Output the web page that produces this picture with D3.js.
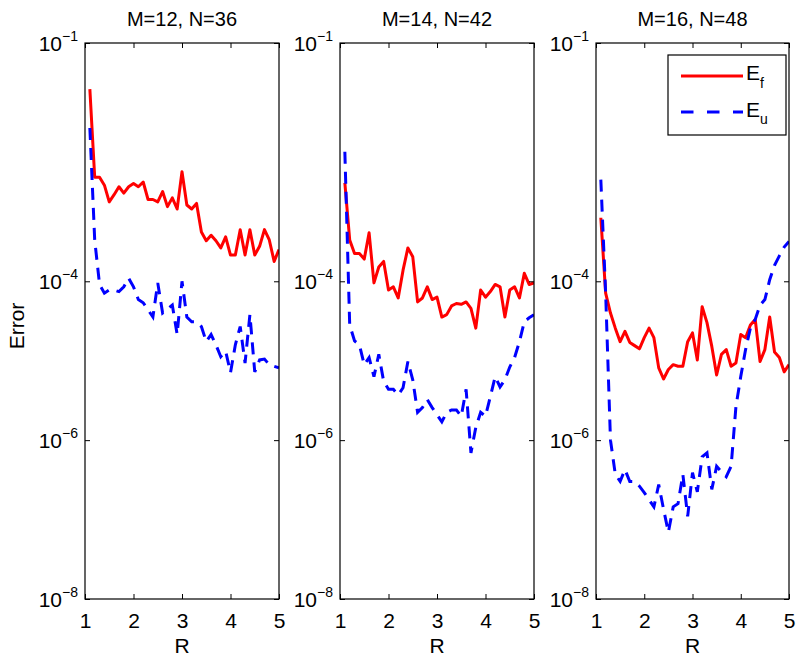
<!DOCTYPE html>
<html>
<head>
<meta charset="utf-8">
<script src="https://cdn.jsdelivr.net/npm/d3@7"></script>
<style>
  body { margin: 0; background: #fff; }
  svg text { font-family: "Liberation Sans", Arial, Helvetica, sans-serif; fill: #000; }
</style>
</head>
<body>
<div id="chart"></div>
<script>
// R values on the x axis
var rValues = [1.1,1.2,1.3,1.4,1.5,1.6,1.7,1.8,1.9,2.0,2.1,2.2,2.3,2.4,2.5,2.6,2.7,2.8,2.9,3.0,
               3.1,3.2,3.3,3.4,3.5,3.6,3.7,3.8,3.9,4.0,4.1,4.2,4.3,4.4,4.5,4.6,4.7,4.8,4.9,5.0];

var panelTitles = ['M=12, N=36', 'M=14, N=42', 'M=16, N=48'];

// errors as log10 values
var efM12 = [-1.58,-2.69,-2.69,-2.79,-3.00,-2.91,-2.81,-2.89,-2.81,-2.77,-2.81,-2.75,-2.97,-2.97,-3.00,-2.87,-3.06,-2.95,-3.09,-2.62,
             -3.04,-3.09,-3.02,-3.38,-3.49,-3.42,-3.49,-3.58,-3.44,-3.67,-3.67,-3.35,-3.67,-3.35,-3.67,-3.56,-3.35,-3.48,-3.75,-3.60];
var euM12 = [-2.07,-3.48,-4.04,-4.15,-4.11,-4.11,-4.13,-4.07,-3.96,-4.07,-4.23,-4.27,-4.36,-4.45,-4.02,-4.40,-4.35,-4.30,-4.67,-4.00,
             -4.45,-4.51,-4.51,-4.57,-4.76,-4.67,-4.80,-4.95,-4.88,-5.15,-4.80,-4.57,-5.03,-4.42,-5.14,-4.99,-4.98,-5.05,-5.07,-5.09];

var efM14 = [-2.76,-3.48,-3.65,-3.65,-3.72,-3.39,-4.02,-3.82,-3.75,-4.11,-4.07,-4.21,-3.86,-3.58,-3.69,-4.26,-4.21,-4.07,-4.23,-4.20,
             -4.45,-4.42,-4.31,-4.28,-4.29,-4.26,-4.34,-4.59,-4.11,-4.20,-4.13,-4.04,-4.07,-4.45,-4.11,-4.07,-4.21,-3.90,-4.04,-4.02];
var euM14 = [-2.37,-4.55,-4.75,-4.80,-5.05,-4.96,-5.20,-4.92,-5.26,-5.36,-5.36,-5.43,-5.34,-5.01,-5.24,-5.65,-5.59,-5.49,-5.59,-5.68,
             -5.77,-5.65,-5.62,-5.62,-5.70,-5.36,-6.16,-5.84,-5.65,-5.70,-5.45,-5.20,-5.33,-5.24,-5.08,-4.96,-4.76,-4.51,-4.46,-4.42];

var efM16 = [-3.20,-4.15,-4.40,-4.59,-4.76,-4.63,-4.77,-4.81,-4.85,-4.71,-4.59,-4.71,-5.09,-5.23,-5.11,-5.05,-5.07,-5.07,-4.76,-4.65,
             -4.99,-4.32,-4.52,-4.82,-5.18,-4.92,-4.86,-5.07,-5.03,-4.67,-4.71,-4.55,-4.48,-5.01,-4.86,-4.45,-4.89,-4.96,-5.14,-5.05];
var euM16 = [-2.72,-4.15,-6.00,-6.43,-6.52,-6.37,-6.52,-6.52,-6.58,-6.66,-6.75,-6.84,-6.56,-6.87,-7.16,-6.84,-6.80,-6.43,-6.96,-6.41,
             -6.65,-6.21,-6.16,-6.62,-6.33,-6.40,-6.46,-6.33,-5.58,-5.20,-4.86,-4.59,-4.48,-4.30,-4.23,-3.98,-3.80,-3.68,-3.57,-3.50];

var xTicks = [1, 2, 3, 4, 5];
var yTicks = [1e-8, 1e-6, 1e-4, 1e-1];
var yTickExp = ['−8', '−6', '−4', '−1'];

var panels = [
    {title: panelTitles[0], ef: efM12, eu: euM12, left: 85,  right: 279},
    {title: panelTitles[1], ef: efM14, eu: euM14, left: 340, right: 534},
    {title: panelTitles[2], ef: efM16, eu: euM16, left: 596, right: 789}
];

var width = 800, height = 657;
var top_ = 43, bottom = 599;

var svg = d3.select('#chart').append('svg')
    .attr('width', width)
    .attr('height', height);

var y = d3.scaleLog().domain([1e-8, 1e-1]).range([bottom, top_]);

function toPoints(logs) {
    return logs.map(function(v, i) { return [rValues[i], Math.pow(10, v)]; });
}

panels.forEach(function(p, k) {
    var x = d3.scaleLinear().domain([1, 5]).range([p.left, p.right]);
    var g = svg.append('g');

    g.append('clipPath').attr('id', 'clip' + k)
        .append('rect')
        .attr('x', p.left).attr('y', top_)
        .attr('width', p.right - p.left).attr('height', bottom - top_);

    var line = d3.line()
        .x(function(d) { return x(d[0]); })
        .y(function(d) { return y(d[1]); });

    var lines = g.append('g').attr('clip-path', 'url(#clip' + k + ')');
    lines.append('path')
        .datum(toPoints(p.ef))
        .attr('d', line)
        .attr('fill', 'none')
        .attr('stroke', '#ff0000')
        .attr('stroke-width', 3)
        .attr('stroke-linejoin', 'round');
    lines.append('path')
        .datum(toPoints(p.eu))
        .attr('d', line)
        .attr('fill', 'none')
        .attr('stroke', '#0000ff')
        .attr('stroke-width', 3)
        .attr('stroke-dasharray', '12,8');

    // inward ticks on all four sides
    g.append('g').attr('transform', 'translate(0,' + bottom + ')')
        .call(d3.axisBottom(x).tickValues(xTicks).tickSize(-5).tickSizeOuter(0).tickPadding(14).tickFormat(d3.format('d')));
    g.append('g').attr('transform', 'translate(0,' + top_ + ')')
        .call(d3.axisTop(x).tickValues(xTicks).tickSize(-5).tickSizeOuter(0).tickFormat(''));
    g.append('g').attr('transform', 'translate(' + p.left + ',0)')
        .call(d3.axisLeft(y).tickValues(yTicks).tickSize(-5).tickSizeOuter(0).tickFormat(''));
    g.append('g').attr('transform', 'translate(' + p.right + ',0)')
        .call(d3.axisRight(y).tickValues(yTicks).tickSize(-5).tickSizeOuter(0).tickFormat(''));

    g.selectAll('.domain').remove();
    g.selectAll('.tick line').attr('stroke', '#000').attr('stroke-width', 1);
    g.selectAll('.tick text')
        .style('font-size', '21px')
        .attr('fill', '#000');

    g.append('rect')
        .attr('x', p.left).attr('y', top_)
        .attr('width', p.right - p.left).attr('height', bottom - top_)
        .attr('fill', 'none')
        .attr('stroke', '#000')
        .attr('stroke-width', 1.2);

    // y tick labels as 10^n
    yTicks.forEach(function(t, i) {
        var txt = g.append('text')
            .attr('x', p.left - 7)
            .attr('y', y(t) + 8)
            .attr('text-anchor', 'end')
            .style('font-size', '21px');
        txt.append('tspan').text('10');
        txt.append('tspan').attr('dy', -10).style('font-size', '14px').text(yTickExp[i]);
    });

    g.append('text')
        .attr('x', (p.left + p.right) / 2)
        .attr('y', 26)
        .attr('text-anchor', 'middle')
        .style('font-size', '20px')
        .text(p.title);

    g.append('text')
        .attr('x', (p.left + p.right) / 2)
        .attr('y', 653)
        .attr('text-anchor', 'middle')
        .style('font-size', '21px')
        .text('R');
});

svg.append('text')
    .attr('transform', 'translate(24,326) rotate(-90)')
    .attr('text-anchor', 'middle')
    .style('font-size', '21px')
    .text('Error');

// legend in the last panel
var legend = svg.append('g');
legend.append('rect')
    .attr('x', 668).attr('y', 55)
    .attr('width', 118).attr('height', 80)
    .attr('fill', '#fff')
    .attr('stroke', '#000')
    .attr('stroke-width', 1.2);
legend.append('line')
    .attr('x1', 681).attr('x2', 743).attr('y1', 76).attr('y2', 76)
    .attr('stroke', '#ff0000').attr('stroke-width', 3);
legend.append('line')
    .attr('x1', 681).attr('x2', 743).attr('y1', 112).attr('y2', 112)
    .attr('stroke', '#0000ff').attr('stroke-width', 3)
    .attr('stroke-dasharray', '12.5,13.5');

var lab1 = legend.append('text').attr('x', 746).attr('y', 80).style('font-size', '21px');
lab1.append('tspan').text('E');
lab1.append('tspan').attr('dy', 8).style('font-size', '14px').text('f');
var lab2 = legend.append('text').attr('x', 746).attr('y', 117).style('font-size', '21px');
lab2.append('tspan').text('E');
lab2.append('tspan').attr('dy', 7).style('font-size', '14px').text('u');
</script>
</body>
</html>
